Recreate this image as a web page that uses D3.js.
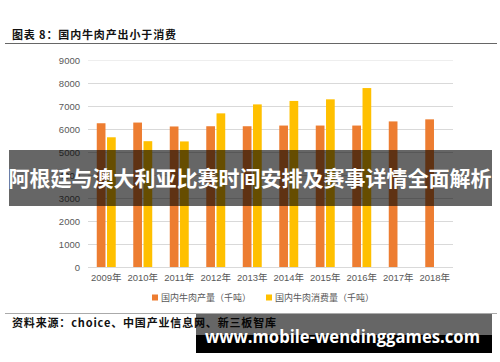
<!DOCTYPE html>
<html>
<head>
<meta charset="utf-8">
<script src="https://cdn.jsdelivr.net/npm/d3@7"></script>
<style>
  html, body { margin: 0; padding: 0; background: #fff; }
  svg { display: block; }
</style>
</head>
<body>
<svg id="chart"></svg>
<script>
// data
const years = ['2009年', '2010年', '2011年', '2012年', '2013年', '2014年', '2015年', '2016年', '2017年', '2018年'];
const production = [6250, 6280, 6110, 6120, 6120, 6150, 6150, 6150, 6330, 6420];
const consumption = [5640, 5470, 5460, 6680, 7070, 7220, 7290, 7780, null, null];
const seriesNames = ['国内牛肉产量（千吨）', '国内牛肉消费量（千吨）'];
const yTicks = [0, 1000, 2000, 3000, 4000, 5000, 6000, 7000, 8000, 9000];

const W = 500, H = 362;
const colors = ['#ED7D31', '#FFC000'];

const svg = d3.select('#chart').attr('width', W).attr('height', H);

svg.append('rect').attr('width', W).attr('height', H).attr('fill', '#fff');

// header
svg.append('text')
  .attr('x', 12).attr('y', 39)
  .attr('textLength', 164).attr('lengthAdjust', 'spacing')
  .style('font-family', '"Noto Sans CJK SC", sans-serif')
  .style('font-size', '11px')
  .style('font-weight', 'bold')
  .attr('fill', '#111')
  .text('图表 8：国内牛肉产出小于消费');

svg.append('line')
  .attr('x1', 5).attr('x2', 497).attr('y1', 43.5).attr('y2', 43.5)
  .attr('stroke', '#666').attr('stroke-width', 1);

// plot
const x0 = d3.scaleBand().domain(years).range([88, 453]).paddingInner(0.48).paddingOuter(0.24);
const x1 = d3.scaleBand().domain([0, 1]).range([0, x0.bandwidth()]).paddingInner(0.15);
const y = d3.scaleLinear().domain([0, 9000]).range([267, 60]);

const grid = svg.append('g');
grid.selectAll('line').data(yTicks).enter().append('line')
  .attr('x1', 88).attr('x2', 453)
  .attr('y1', d => Math.round(y(d)) + 0.5).attr('y2', d => Math.round(y(d)) + 0.5)
  .attr('stroke', d => d === 9000 ? '#eeeeee' : '#d9d9d9')
  .attr('stroke-width', 1);

const yAxis = svg.append('g')
  .attr('transform', 'translate(88,0)')
  .call(d3.axisLeft(y).tickValues(yTicks).tickSize(0).tickPadding(8).tickFormat(d3.format('d')));
yAxis.select('.domain').remove();
yAxis.selectAll('text')
  .attr('fill', '#595959')
  .style('font-family', '"Liberation Sans", Arial, sans-serif')
  .style('font-size', '9.5px');

const xAxis = svg.append('g')
  .attr('transform', 'translate(0,267)')
  .call(d3.axisBottom(x0).tickSize(0).tickPadding(7));
xAxis.select('.domain').remove();
xAxis.selectAll('text')
  .attr('fill', '#595959')
  .style('font-family', '"Liberation Sans", "Noto Sans CJK SC", sans-serif')
  .style('font-size', '9.5px');

const rows = years.map((yr, i) => ({ year: yr, vals: [production[i], consumption[i]] }));

const groups = svg.append('g').selectAll('g').data(rows).enter().append('g')
  .attr('transform', d => `translate(${x0(d.year)},0)`);

groups.selectAll('rect')
  .data(d => d.vals.map((v, k) => ({ k, v })).filter(e => e.v != null))
  .enter().append('rect')
  .attr('x', d => x1(d.k))
  .attr('width', x1.bandwidth())
  .attr('y', d => y(d.v))
  .attr('height', d => y(0) - y(d.v))
  .attr('fill', d => colors[d.k]);

// legend
const legendX = [152, 266];
const legend = svg.append('g').selectAll('g').data(seriesNames).enter().append('g')
  .attr('transform', (d, i) => `translate(${legendX[i]},298)`);
legend.append('rect')
  .attr('x', 0).attr('y', -3.5).attr('width', 6).attr('height', 6)
  .attr('fill', (d, i) => colors[i]);
legend.append('text')
  .attr('x', 9).attr('y', 3)
  .style('font-family', '"Noto Sans CJK SC", sans-serif')
  .style('font-size', '9px')
  .attr('fill', '#595959')
  .text(d => d);

// footer
svg.append('line')
  .attr('x1', 5).attr('x2', 497).attr('y1', 313.5).attr('y2', 313.5)
  .attr('stroke', '#aaa').attr('stroke-width', 1);

svg.append('text')
  .attr('x', 12).attr('y', 327)
  .attr('textLength', 264).attr('lengthAdjust', 'spacing')
  .style('font-family', '"Noto Sans CJK SC", sans-serif')
  .style('font-size', '11px')
  .style('font-weight', 'bold')
  .attr('fill', '#111')
  .text('资料来源：choice、中国产业信息网、新三板智库');

// overlay banner
svg.append('rect')
  .attr('x', 9).attr('y', 150).attr('width', 483).attr('height', 56)
  .attr('fill', 'rgba(0,0,0,0.6)');
svg.append('text')
  .attr('x', 250).attr('y', 186)
  .attr('text-anchor', 'middle')
  .style('font-family', '"Noto Sans CJK SC", sans-serif')
  .style('font-size', '21px')
  .style('font-weight', 'bold')
  .attr('fill', '#fff')
  .text('阿根廷与澳大利亚比赛时间安排及赛事详情全面解析');

// watermark box
svg.append('rect')
  .attr('x', 196).attr('y', 314).attr('width', 296).attr('height', 21)
  .attr('fill', 'rgba(0,0,0,0.6)');
svg.append('rect')
  .attr('x', 196).attr('y', 335).attr('width', 296).attr('height', 18)
  .attr('fill', '#000');
svg.append('text')
  .attr('x', 205).attr('y', 343)
  .attr('textLength', 275).attr('lengthAdjust', 'spacingAndGlyphs')
  .style('font-family', '"Open Sans", sans-serif')
  .style('font-size', '18px')
  .style('font-weight', 'bold')
  .attr('fill', '#fff')
  .text('www.mobile-wendinggames.com');
</script>
</body>
</html>
